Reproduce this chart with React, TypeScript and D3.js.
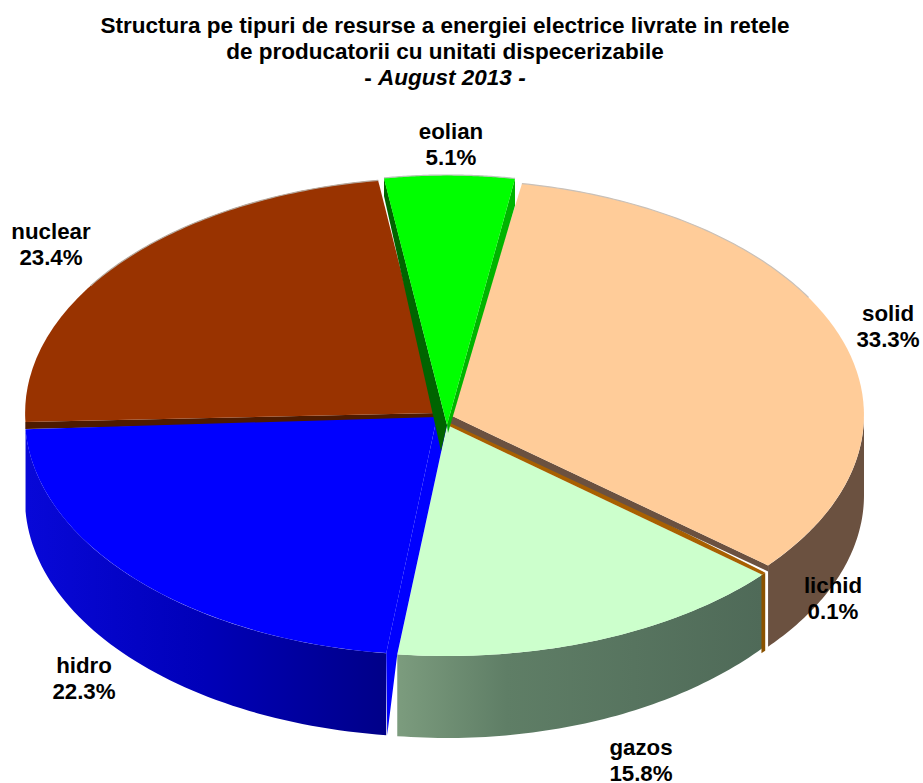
import React from "react";
import * as d3 from "d3";

const categories = ["eolian", "solid", "lichid", "gazos", "hidro", "nuclear"];
const shares = [5.1, 33.3, 0.1, 15.8, 22.3, 23.4];
const titleLines = [
  "Structura pe tipuri de resurse a energiei electrice livrate in retele",
  "de producatorii cu unitati dispecerizabile",
];
const titleDate = "August 2013 -";

const DEG = Math.PI / 180;
const W = 923;
const H = 783;

// per-slice placement of the exploded, perspective pie
const geo: Record<string, any> = {
  eolian: { cx: 447, cy: 425, rx: 410, ry: 250, d0: 0.36, d1: 0.39, fill: "#00ff00" },
  solid: { cx: 450, cy: 415, rx: 414, ry: 235, d0: 0.84, d1: 0.76, fill: "#ffcc99", bcy: 495, bry: 237, wall: "#6b5140", from: 90 },
  lichid: { cx: 449, cy: 421, rx: 414, ry: 235, d0: 1.16, d1: 1.6, fill: "#a86000", bcy: 499, bry: 235, wall: "#8a5200" },
  gazos: { cx: 447, cy: 425, rx: 414, ry: 231, d0: 1.0, d1: 0.62, fill: "#ccffcc", bcy: 483, bry: 255, wall: "url(#gazosWall)" },
  hidro: { cx: 437, cy: 417, rx: 412, ry: 238, d0: 0.8, d1: 0.5, fill: "#0000ff", bcy: 499, bry: 238, wall: "url(#hidroWall)" },
  nuclear: { cx: 437, cy: 413, rx: 412, ry: 235, d0: 1.24, d1: 1.0, fill: "#993300" },
};

const labels = [
  { name: "eolian", x: 451, y: 139 },
  { name: "solid", x: 888, y: 321 },
  { name: "lichid", x: 833, y: 593 },
  { name: "gazos", x: 641, y: 755 },
  { name: "hidro", x: 84, y: 673 },
  { name: "nuclear", x: 51, y: 239 },
];

const pie = d3
  .pie<number>()
  .sort(null)
  .value((d) => d)
  .startAngle(-9.2 * DEG)
  .endAngle((360 - 9.2) * DEG);

const arcs = pie(shares);
const slices: Record<string, any> = {};
categories.forEach((c, i) => {
  const g = geo[c];
  slices[c] = { ...g, a0: arcs[i].startAngle + g.d0 * DEG, a1: arcs[i].endAngle + g.d1 * DEG };
});

type P = [number, number];
const at = (s: any, a: number) => [s.cx + s.rx * Math.sin(a), s.cy - s.ry * Math.cos(a)] as P;
const atBottom = (s: any, a: number) => [s.cx + s.rx * Math.sin(a), s.bcy - s.bry * Math.cos(a)] as P;
const poly = d3.line();

function topFace(s: any) {
  const p = d3.arc()({ innerRadius: 0, outerRadius: 1, startAngle: s.a0, endAngle: s.a1 } as any) as string;
  return <path d={p} fill={s.fill} transform={`translate(${s.cx},${s.cy}) scale(${s.rx},${s.ry})`} />;
}

function rim(s: any, a0: number, a1: number, stroke: string) {
  const pts = d3.range(0, 61).map((i) => at(s, a0 + ((a1 - a0) * i) / 60));
  return <path d={poly(pts) as string} fill="none" stroke={stroke} strokeWidth={1.2} />;
}

function outerWall(s: any) {
  const a0 = s.from !== undefined ? s.from * DEG : s.a0;
  const steps = d3.range(0, 61).map((i) => a0 + ((s.a1 - a0) * i) / 60);
  const pts = [...steps.map((a) => at(s, a)), ...steps.slice().reverse().map((a) => atBottom(s, a))];
  return <path d={(poly(pts) as string) + "Z"} fill={s.wall} />;
}

function shape(pts: P[], fill: string) {
  return <path d={(poly(pts) as string) + "Z"} fill={fill} />;
}

export default function App() {
  const { eolian, solid, lichid, gazos, hidro, nuclear } = slices;
  const eL = at(eolian, eolian.a0);
  const eR = at(eolian, eolian.a1);
  const eApex: P = [eolian.cx, eolian.cy];
  const hCorner = at(hidro, hidro.a0);
  const gCorner = at(gazos, gazos.a1);
  const gApex: P = [gazos.cx, gazos.cy];
  const sApex: P = [solid.cx, solid.cy];
  const sCorner = at(solid, solid.a1);
  const nApex: P = [nuclear.cx, nuclear.cy];
  const nCorner = at(nuclear, nuclear.a0);
  const font = "'Liberation Sans', Arial, sans-serif";
  return (
    <svg width={W} height={H} style={{ position: "absolute", left: 0, top: 0, background: "#fff" }} fontFamily={font}>
      <defs>
        <linearGradient id="gazosWall" gradientUnits="userSpaceOnUse" x1={397} x2={762} y1={0} y2={0}>
          <stop offset="0" stopColor="#7c9c7e" />
          <stop offset="0.3" stopColor="#5f7e66" />
          <stop offset="1" stopColor="#4f6a58" />
        </linearGradient>
        <linearGradient id="hidroWall" gradientUnits="userSpaceOnUse" x1={25} x2={386} y1={0} y2={0}>
          <stop offset="0" stopColor="#0808d8" />
          <stop offset="0.5" stopColor="#0000b8" />
          <stop offset="1" stopColor="#000088" />
        </linearGradient>
      </defs>

      <g fontWeight="bold" fontSize={22.5} textAnchor="middle" fill="#000">
        <text x={445} y={33}>{titleLines[0]}</text>
        <text x={445} y={59}>{titleLines[1]}</text>
        <text x={445} y={85}>- <tspan fontStyle="italic">{titleDate}</tspan></text>
      </g>

      {/* nuclear */}
      {shape([nCorner, [nCorner[0], nCorner[1] + 7], [nApex[0], nApex[1] + 7], nApex], "#4d1a00")}
      {topFace(nuclear)}
      {rim(nuclear, nuclear.a0 + 35 * DEG, nuclear.a1, "#b5a89c")}

      {/* gazos, lichid */}
      {outerWall(gazos)}
      {topFace(gazos)}
      {outerWall(lichid)}
      {shape([sApex, at(lichid, lichid.a0), at(gazos, gazos.a0), gApex], "#a86000")}

      {/* solid */}
      {outerWall(solid)}
      {shape([sCorner, [sCorner[0], sCorner[1] + 6], [sApex[0], sApex[1] + 8], sApex], solid.wall)}
      {topFace(solid)}
      {rim(solid, solid.a0, 60 * DEG, "#c9c0b8")}

      {/* hidro */}
      {outerWall(hidro)}
      {shape([gApex, gCorner, [hCorner[0] + 1, hidro.bcy + hidro.bry * 0.992], hCorner, [hidro.cx, hidro.cy]], "#0000ff")}
      {topFace(hidro)}

      {/* eolian */}
      {shape([eL, [eL[0], eL[1] + 18], [eApex[0] - 6, eApex[1] + 26], eApex], "#006400")}
      {shape([eR, [eR[0], eR[1] + 27], [eApex[0] + 1, eApex[1] + 8], eApex], "#00b400")}
      {topFace(eolian)}
      {rim(eolian, eolian.a0, eolian.a1, "#b8c4b8")}

      <g fontWeight="bold" fontSize={22.3} textAnchor="middle" fill="#000">
        {labels.map((l) => (
          <g key={l.name}>
            <text x={l.x} y={l.y}>{l.name}</text>
            <text x={l.x} y={l.y + 26}>{shares[categories.indexOf(l.name)].toFixed(1)}%</text>
          </g>
        ))}
      </g>
    </svg>
  );
}
